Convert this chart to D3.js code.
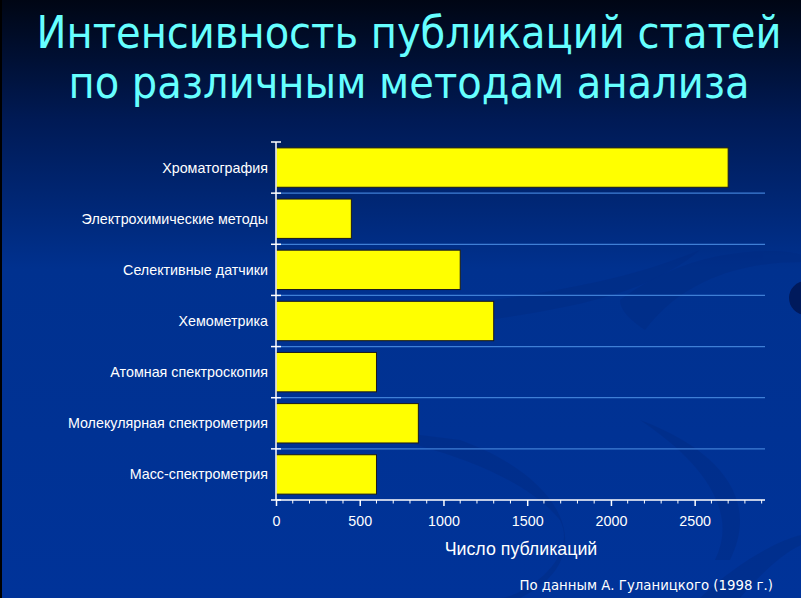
<!DOCTYPE html>
<html lang="ru">
<head>
  <meta charset="UTF-8">
  <title>Интенсивность публикаций</title>
  <script src="https://cdn.jsdelivr.net/npm/d3@7"></script>
  <style>
    html, body { margin: 0; padding: 0; background: #002a8a; }
    svg { display: block; }
    .title { font-family: "DejaVu Sans Condensed", "DejaVu Sans", sans-serif; font-size: 44.5px; fill: #66ffff; }
    .cat-label { font-family: "Liberation Sans", Arial, sans-serif; font-size: 14.3px; fill: #ffffff; }
    .axis-title { font-family: "Liberation Sans", Arial, sans-serif; font-size: 17.8px; fill: #ffffff; }
    .source { font-family: "DejaVu Sans", sans-serif; font-size: 13.3px; fill: #ffffff; }
  </style>
</head>
<body>
  <div id="container"></div>
  <script>
    const categories = [
      "Хроматография",
      "Электрохимические методы",
      "Селективные датчики",
      "Хемометрика",
      "Атомная спектроскопия",
      "Молекулярная спектрометрия",
      "Масс-спектрометрия"
    ];
    const publications = [2700, 450, 1100, 1300, 600, 850, 600];
    const xTicks = [0, 500, 1000, 1500, 2000, 2500];
    const minorTicks = d3.range(0, 3000, 100);

    const width = 801;
    const height = 598;
    const plot = { left: 276, right: 765, top: 142, bottom: 500 };

    const svg = d3.select("#container")
      .append("svg")
      .attr("width", width)
      .attr("height", height);

    // background gradient
    const defs = svg.append("defs");
    const grad = defs.append("linearGradient")
      .attr("id", "bg")
      .attr("x1", 0).attr("y1", 0).attr("x2", 0).attr("y2", 1);
    grad.append("stop").attr("offset", "0%").attr("stop-color", "#000614");
    grad.append("stop").attr("offset", "20%").attr("stop-color", "#001a55");
    grad.append("stop").attr("offset", "45%").attr("stop-color", "#00318f");
    grad.append("stop").attr("offset", "100%").attr("stop-color", "#003399");

    svg.append("rect")
      .attr("width", width)
      .attr("height", height)
      .attr("fill", "url(#bg)");

    svg.append("rect")
      .attr("width", 2)
      .attr("height", height)
      .attr("fill", "#000000");

    // faint swirls
    const swirl = svg.append("g")
      .attr("fill", "#002a80")
      .attr("opacity", 0.4);
    swirl.append("path")
      .attr("d", "M300,330 C450,300 580,300 700,250 C640,300 560,310 420,330 Z");
    swirl.append("path")
      .attr("d", "M620,300 C700,240 790,250 801,255 L801,262 C760,262 690,270 645,330 C630,320 620,310 620,300 Z");
    swirl.append("path")
      .attr("d", "M300,420 C420,440 520,470 560,520 C580,560 520,598 500,598 L520,598 C600,560 570,480 460,440 Z");
    swirl.append("path")
      .attr("d", "M640,420 C720,450 760,500 730,560 L715,560 C740,510 700,460 640,420 Z");
    swirl.append("path")
      .attr("d", "M700,598 C740,560 780,540 801,535 L801,545 C780,555 760,575 740,598 Z");

    // edge circle
    svg.append("circle")
      .attr("cx", 806)
      .attr("cy", 298)
      .attr("r", 17)
      .attr("fill", "#001a5c");

    // title
    const title = svg.append("text")
      .attr("class", "title")
      .attr("text-anchor", "middle");
    title.append("tspan").attr("x", 409).attr("y", 48).text("Интенсивность публикаций статей");
    title.append("tspan").attr("x", 409).attr("y", 98).text("по различным методам анализа");

    // scales
    const x = d3.scaleLinear()
      .domain([0, 2920])
      .range([plot.left, plot.right]);

    const y = d3.scaleBand()
      .domain(categories)
      .range([plot.top, plot.bottom])
      .paddingInner(0.23)
      .paddingOuter(0.115);

    const step = y.step();
    const boundaries = d3.range(categories.length + 1).map(i => plot.top + i * step);

    // gridlines at category boundaries
    svg.append("g")
      .selectAll("line")
      .data(boundaries.slice(1, -1))
      .join("line")
      .attr("x1", plot.left)
      .attr("x2", plot.right)
      .attr("y1", d => d)
      .attr("y2", d => d)
      .attr("stroke", "#3f7fd6")
      .attr("stroke-width", 1.2);

    // bars
    svg.append("g")
      .selectAll("rect")
      .data(publications)
      .join("rect")
      .attr("x", x(0))
      .attr("y", (d, i) => y(categories[i]))
      .attr("width", d => x(d) - x(0))
      .attr("height", y.bandwidth())
      .attr("fill", "#ffff00")
      .attr("stroke", "#1a1a1a")
      .attr("stroke-width", 1);

    // y axis
    const yAxis = svg.append("g").attr("stroke", "#ffffff").attr("stroke-width", 1.5);
    yAxis.append("line")
      .attr("x1", plot.left).attr("x2", plot.left)
      .attr("y1", plot.top).attr("y2", plot.bottom);
    yAxis.selectAll(".ytick")
      .data(boundaries)
      .join("line")
      .attr("class", "ytick")
      .attr("x1", plot.left - 5)
      .attr("x2", plot.left + 5)
      .attr("y1", d => d)
      .attr("y2", d => d);

    svg.append("g")
      .selectAll("text")
      .data(categories)
      .join("text")
      .attr("class", "cat-label")
      .attr("x", 268)
      .attr("y", d => y(d) + y.bandwidth() / 2)
      .attr("dy", "0.35em")
      .attr("text-anchor", "end")
      .text(d => d);

    // x axis
    const xAxis = svg.append("g")
      .attr("transform", `translate(0,${plot.bottom})`)
      .call(d3.axisBottom(x).tickValues(xTicks).tickFormat(d3.format("d")).tickSize(6).tickPadding(10));
    xAxis.select(".domain").attr("stroke", "#ffffff").attr("stroke-width", 1.5)
      .attr("d", `M${plot.left},0H${plot.right}`);
    xAxis.selectAll(".tick line").attr("stroke", "#ffffff").attr("stroke-width", 1.5);
    xAxis.selectAll(".tick text").attr("fill", "#ffffff")
      .style("font-size", "14.3px").style("font-family", "'Liberation Sans', Arial, sans-serif");

    svg.append("g")
      .attr("transform", `translate(0,${plot.bottom})`)
      .selectAll("line")
      .data(minorTicks.filter(d => d % 500 !== 0))
      .join("line")
      .attr("x1", d => x(d))
      .attr("x2", d => x(d))
      .attr("y1", 0)
      .attr("y2", 3.5)
      .attr("stroke", "#ffffff")
      .attr("stroke-width", 1);

    // axis title
    svg.append("text")
      .attr("class", "axis-title")
      .attr("x", 521)
      .attr("y", 555)
      .attr("text-anchor", "middle")
      .text("Число публикаций");

    // source
    svg.append("text")
      .attr("class", "source")
      .attr("x", 773)
      .attr("y", 590)
      .attr("text-anchor", "end")
      .text("По данным А. Гуланицкого (1998 г.)");
  </script>
</body>
</html>
